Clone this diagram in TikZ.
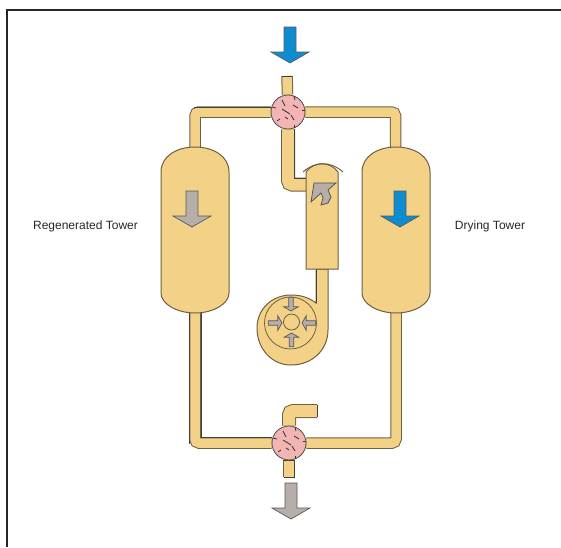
\documentclass[tikz,border=0pt]{standalone}
\usepackage{fontspec}
\setmainfont{Liberation Sans}
\usetikzlibrary{backgrounds}
\definecolor{pipetan}{HTML}{F3D287}
\definecolor{edgebrown}{HTML}{6E5F45}
\definecolor{valvepink}{HTML}{F3B5B3}
\definecolor{flowblue}{HTML}{0F8CCF}
\definecolor{flowgrey}{HTML}{B8AEA9}
\tikzset{
  pipe/.style={draw=edgebrown, line width=1pt, double=pipetan, double distance=9.5pt, rounded corners=4pt},
  fatpipe/.style={pipe, double distance=12pt},
  pipeedge/.style={draw=black!75, line width=.9pt},
  tower/.style={draw=edgebrown, fill=pipetan, line width=1pt},
  valve/.style={circle, draw=black!70, fill=valvepink, line width=.8pt, minimum size=34pt, inner sep=0pt},
  valvetick/.style={draw=black!80, line width=.8pt},
  blueflow/.style={fill=flowblue, draw=black!65, line width=.7pt},
  greyflow/.style={fill=flowgrey, draw=black!65, line width=.7pt},
  label/.style={text=black!85, font=\fontsize{12}{14}\selectfont},
  pics/flowarrow/.style={code={
    \path[pic actions] (-6,-36) -- (6,-36) -- (6,-11) -- (19,-11) -- (0,0) -- (-19,-11) -- (-6,-11) -- cycle;
  }},
  pics/valveticks/.style={code={
    \draw[valvetick] (-16,-5) -- (-12,-4);
    \draw[valvetick] (14,-2) -- (17,-2);
    \draw[valvetick] (6,-16) -- (7,-12);
    \draw[valvetick] (6,13) -- (6,16);
    \draw[valvetick] (-11,9) -- (-8,7);
    \draw[valvetick] (-6,-12) -- (-3,-6);
    \draw[valvetick] (-6,-3) -- (2,2);
    \draw[valvetick] (3,3) -- (6,8);
    \draw[valvetick] (5,-7) -- (10,-4);
    \draw[valvetick] (-3,5) -- (0,7);
  }}
}
\begin{document}
\begin{tikzpicture}[x=1pt, y=-1pt]
  \useasboundingbox (0,0) rectangle (561,547);
  \draw[black!85, line width=2pt] (7,547) -- (7,10) -- (561,10);

  \node[valve] (topvalve) at (288,112) {};
  \node[valve] (botvalve) at (289,443) {};
  \pic at (topvalve) {valveticks};
  \pic at (botvalve) {valveticks};
  \coordinate (lefttop) at (195,150);
  \coordinate (righttop) at (395.5,150);
  \coordinate (leftbot) at (195,311);
  \coordinate (rightbot) at (396,311);
  \coordinate (topstub) at (287,76);
  \coordinate (botstub) at (289,477);
  \coordinate (blowerin) at (308,184.5);
  \coordinate (outstub) at (317,411);

  \begin{scope}[on background layer]
    \draw[pipe] (topstub) -- (topvalve);
    \draw[pipe] (lefttop) |- (topvalve);
    \draw[pipe] (righttop) |- (topvalve);
    \draw[fatpipe] (topvalve) |- (blowerin);
    \draw[pipe] (leftbot) |- (botvalve);
    \draw[pipe] (rightbot) |- (botvalve);
    \draw[pipe] (botvalve) -- (botstub);
    \draw[fatpipe] (botvalve.north) |- (outstub);
    \draw[pipeedge] (282,76) -- (292,76);
    \draw[pipeedge] (283.5,477) -- (294.5,477);
    \draw[pipeedge] (317,405) -- (317,417);
    \draw[pipeedge] (194,107) -- (272,107);
    \draw[pipeedge] (294.5,129) -- (294.5,178) -- (306,178);
    \draw[pipeedge] (189.5,313) -- (189.5,444);
    \draw[pipeedge] (201,313) -- (201,437) -- (272,437);
    \draw[pipeedge] (294.5,460) -- (294.5,477);
    \draw[pipeedge] (283,460) -- (295,460);
  \end{scope}

  \draw[tower] (161,172) .. controls (161,156) and (177,147) .. (195,147) .. controls (213,147) and (229,156) .. (229,172) -- (229,293) .. controls (229,304) and (213,313) .. (195,313) .. controls (177,313) and (161,304) .. (161,293) -- cycle;
  \draw[tower] (362,172) .. controls (362,156) and (378,147) .. (396,147) .. controls (414,147) and (430,156) .. (430,172) -- (430,293) .. controls (430,304) and (414,313) .. (396,313) .. controls (378,313) and (362,304) .. (362,293) -- cycle;

  \draw[tower] (316,269) -- (316,303) .. controls (308,297) and (300,295) .. (291,295) .. controls (272,295) and (257,309) .. (257,328) .. controls (257,349) and (272,365) .. (291,365) .. controls (312,365) and (328,350) .. (328,330) -- (328,269) -- cycle;
  \node[circle, draw=edgebrown, line width=.8pt, minimum size=52pt, inner sep=0pt] (impeller) at (290.5,323) {};
  \draw[pipeedge] (316,270) -- (316,303);
  \draw[tower] (306,269) -- (306,172) .. controls (314,161) and (330,161) .. (338,172) -- (338,269) -- cycle;
  \draw[tower, fill=none] (303,172) .. controls (315,161) and (331,161) .. (343,172);
  \draw[draw=black!70, line width=.7pt, fill=flowgrey] (314,183) -- (336,183) -- (328,190) -- (331,197) -- (328,203) -- (321,205) -- (323,198) -- (321,193) -- (311,202) -- cycle;

  \node[circle, draw=edgebrown, fill=pipetan, line width=.8pt, minimum size=16pt, inner sep=0pt] (hub) at (291.5,322) {};
  \foreach \tipx/\tipy/\tipangle in {291/311/0, 282/323/90, 291.5/333/180, 302/323/270}
    \pic[greyflow, scale=.38, rotate=\tipangle] at (\tipx,\tipy) {flowarrow};

  \pic[blueflow] at (290,63) {flowarrow};
  \pic[blueflow] at (400,227) {flowarrow};
  \pic[greyflow] at (192,227) {flowarrow};
  \pic[greyflow] at (291,519) {flowarrow};

  \node[label] (regenlabel) at (85.5,226) {Regenerated Tower};
  \node[label] (dryinglabel) at (490,226) {Drying Tower};
\end{tikzpicture}
\end{document}
